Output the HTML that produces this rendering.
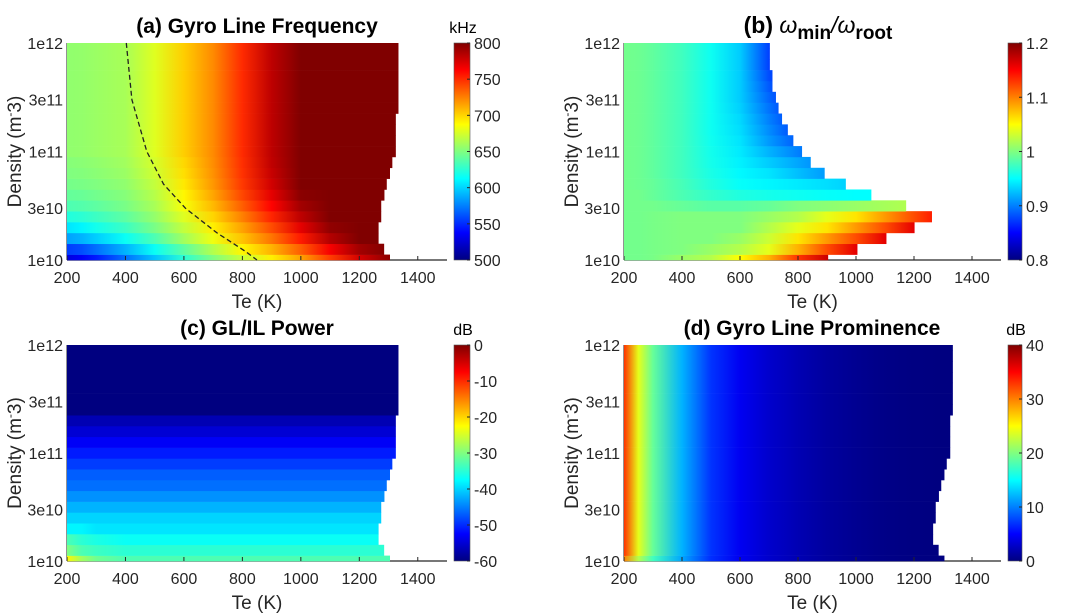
<!DOCTYPE html>
<html><head><meta charset="utf-8"><style>
body{margin:0;background:#fff;}
svg{display:block;font-family:"Liberation Sans",Arial,sans-serif;}
</style></head><body>
<svg id="fig" width="1065" height="616" viewBox="0 0 1065 616"></svg>
<script>
// ---- data ----
const teCols = [200,250,300,400,500,600,700,800,900,1000,1100,1200,1300];
const densityRowsLog = [10,10.1,10.2,10.3,10.4,10.5,10.6,10.7,10.8,10.9,11,11.1,11.2,11.3,11.4,11.5,11.6,11.7,11.8,11.9,12];
const edgeA = [1305,1285,1266,1266,1275,1275,1286,1294,1305,1313,1325,1325,1325,1325,1334,1334,1334,1334,1334,1334,1334];
const edgeB = [904,1005,1105,1202,1262,1173,1053,965,892,844,814,784,765,745,733,724,712,712,703,703,703];
const freqA = [
[528,535,545,570,595,625,650,672,692,715,745,775,795],
[555,560,570,590,615,640,665,690,710,735,765,790,800],
[585,590,598,615,635,660,683,705,728,755,785,800,800],
[605,610,618,630,648,670,692,715,740,770,795,800,800],
[622,625,630,640,656,678,700,725,752,782,800,800,800],
[635,637,640,648,662,685,708,735,762,790,800,800,800],
[642,643,646,652,666,690,714,742,770,797,800,800,800],
[647,648,650,655,670,694,718,746,776,800,800,800,800],
[650,651,653,658,673,697,720,748,779,800,800,800,800],
[652,653,655,660,675,699,721,749,781,800,800,800,800],
[655,656,658,662,678,702,722,750,782,800,800,800,800],
[655,656,658,662,678,702,722,750,782,800,800,800,800],
[655,656,658,662,678,702,722,750,782,800,800,800,800],
[655,656,658,662,678,702,722,750,782,800,800,800,800],
[655,656,658,662,678,702,722,750,782,800,800,800,800],
[655,656,658,662,678,702,722,750,782,800,800,800,800],
[655,656,658,662,678,702,722,750,782,800,800,800,800],
[655,656,658,662,678,702,722,750,782,800,800,800,800],
[655,656,658,662,678,702,722,750,782,800,800,800,800],
[655,656,658,662,678,702,722,750,782,800,800,800,800],
[655,656,658,662,678,702,722,750,782,800,800,800,800]];
const ratioB = [
[0.995,0.995,0.997,1.01,1.02,1.05,1.08,1.13,1.17,1.2,1.2,1.2,1.2],
[0.995,0.995,0.997,1.0,1.01,1.02,1.04,1.08,1.12,1.16,1.2,1.2,1.2],
[0.995,0.995,0.997,1.0,1.0,1.01,1.03,1.06,1.09,1.12,1.16,1.2,1.2],
[0.995,0.995,0.997,1.0,1.0,1.0,1.02,1.04,1.06,1.09,1.12,1.16,1.2],
[0.995,0.995,0.997,1.0,1.0,1.0,1.01,1.02,1.04,1.06,1.09,1.12,1.15],
[0.995,0.995,0.995,0.99,0.985,0.985,0.99,1.0,1.005,1.01,1.015,1.02,1.02],
[0.995,0.995,0.99,0.98,0.97,0.962,0.958,0.955,0.952,0.95,0.95,0.95,0.95],
[0.995,0.993,0.99,0.978,0.963,0.952,0.947,0.942,0.937,0.93,0.93,0.93,0.93],
[0.995,0.993,0.988,0.975,0.96,0.948,0.94,0.925,0.91,0.9,0.9,0.9,0.9],
[0.995,0.993,0.988,0.975,0.958,0.945,0.93,0.915,0.9,0.89,0.89,0.89,0.89],
[0.995,0.993,0.988,0.975,0.957,0.942,0.92,0.9,0.88,0.87,0.87,0.87,0.87],
[0.995,0.993,0.988,0.975,0.956,0.94,0.91,0.885,0.87,0.87,0.87,0.87,0.87],
[0.995,0.993,0.988,0.975,0.955,0.937,0.905,0.875,0.87,0.87,0.87,0.87,0.87],
[0.995,0.993,0.988,0.975,0.955,0.935,0.9,0.87,0.87,0.87,0.87,0.87,0.87],
[0.995,0.993,0.988,0.975,0.955,0.932,0.895,0.865,0.86,0.86,0.86,0.86,0.86],
[0.995,0.993,0.988,0.975,0.955,0.93,0.89,0.86,0.86,0.86,0.86,0.86,0.86],
[0.995,0.993,0.988,0.975,0.955,0.93,0.885,0.86,0.86,0.86,0.86,0.86,0.86],
[0.995,0.993,0.988,0.975,0.955,0.93,0.88,0.86,0.86,0.86,0.86,0.86,0.86],
[0.995,0.993,0.988,0.975,0.955,0.93,0.875,0.86,0.86,0.86,0.86,0.86,0.86],
[0.995,0.993,0.988,0.975,0.955,0.93,0.875,0.86,0.86,0.86,0.86,0.86,0.86],
[0.995,0.993,0.988,0.975,0.955,0.93,0.875,0.86,0.86,0.86,0.86,0.86,0.86]];
const powerC = [
[-22,-28,-31,-33,-33,-33,-33,-33,-33,-33,-33,-33,-33],
[-30,-33,-34,-35,-35,-35,-35,-35,-35,-35,-35,-35,-35],
[-33,-35,-36,-37,-37,-37,-37,-37,-37,-37,-37,-37,-37],
[-38,-38,-39,-39,-39,-39,-39,-39,-39,-39,-39,-39,-39],
[-40,-40,-40,-40,-40,-40,-40,-40,-40,-40,-40,-40,-40],
[-42,-42,-42,-42,-42,-42,-42,-42,-42,-42,-42,-42,-42],
[-44,-44,-44,-44,-44,-44,-44,-44,-44,-44,-44,-44,-44],
[-46,-46,-46,-46,-46,-46,-46,-46,-46,-46,-46,-46,-46],
[-47,-47,-47,-47,-47,-47,-47,-47,-47,-47,-47,-47,-47],
[-49,-49,-49,-49,-49,-49,-49,-49,-49,-49,-49,-49,-49],
[-51,-51,-51,-51,-51,-51,-51,-51,-51,-51,-51,-51,-51],
[-53,-53,-53,-53,-53,-53,-53,-53,-53,-53,-53,-53,-53],
[-55,-55,-55,-55,-55,-55,-55,-55,-55,-55,-55,-55,-55],
[-57,-57,-57,-57,-57,-57,-57,-57,-57,-57,-57,-57,-57],
[-60,-60,-60,-60,-60,-60,-60,-60,-60,-60,-60,-60,-60],
[-60,-60,-60,-60,-60,-60,-60,-60,-60,-60,-60,-60,-60],
[-60,-60,-60,-60,-60,-60,-60,-60,-60,-60,-60,-60,-60],
[-60,-60,-60,-60,-60,-60,-60,-60,-60,-60,-60,-60,-60],
[-60,-60,-60,-60,-60,-60,-60,-60,-60,-60,-60,-60,-60],
[-60,-60,-60,-60,-60,-60,-60,-60,-60,-60,-60,-60,-60],
[-60,-60,-60,-60,-60,-60,-60,-60,-60,-60,-60,-60,-60]];
const promD = [
[30,22,17.5,11.5,6.8,4.4,3,2,1.2,0.7,0.3,0.1,0],
[33,24,19,12,7,4.5,3,2,1.2,0.7,0.3,0.1,0],
[33,24,19,12,7,4.5,3,2,1.2,0.7,0.3,0.1,0],
[33,24,19,12,7,4.5,3,2,1.2,0.7,0.3,0.1,0],
[33,24,19,12,7,4.5,3,2,1.2,0.7,0.3,0.1,0],
[33,24,19,12,7,4.5,3,2,1.2,0.7,0.3,0.1,0],
[33,24,19,12,7,4.5,3,2,1.2,0.7,0.3,0.1,0],
[33,24,19,12,7,4.5,3,2,1.2,0.7,0.3,0.1,0],
[33,24,19,12,7,4.5,3,2,1.2,0.7,0.3,0.1,0],
[33,24,19,12,7,4.5,3,2,1.2,0.7,0.3,0.1,0],
[33,24,19,12,7,4.5,3,2,1.2,0.7,0.3,0.1,0],
[33,24,19,12,7,4.5,3,2,1.2,0.7,0.3,0.1,0],
[33,24,19,12,7,4.5,3,2,1.2,0.7,0.3,0.1,0],
[33,24,19,12,7,4.5,3,2,1.2,0.7,0.3,0.1,0],
[33,24,19,12,7,4.5,3,2,1.2,0.7,0.3,0.1,0],
[33,24,19,12,7,4.5,3,2,1.2,0.7,0.3,0.1,0],
[33,24,19,12,7,4.5,3,2,1.2,0.7,0.3,0.1,0],
[33,24,19,12,7,4.5,3,2,1.2,0.7,0.3,0.1,0],
[33,24,19,12,7,4.5,3,2,1.2,0.7,0.3,0.1,0],
[33,24,19,12,7,4.5,3,2,1.2,0.7,0.3,0.1,0],
[33,24,19,12,7,4.5,3,2,1.2,0.7,0.3,0.1,0]];
const dashTe = [403,422,473,530,605,713,810,850];
const dashLogN = [12,11.477,11,10.7,10.477,10.25,10.08,10];
const xTicks = [200,400,600,800,1000,1200,1400];
const yTickLogs = [10,10.477,11,11.477,12];
const yTickLabels = ["1e10","3e10","1e11","3e11","1e12"];
const cbTicksA = [500,550,600,650,700,750,800];
const cbTicksB = [0.8,0.9,1,1.1,1.2];
const cbLabelsB = ["0.8","0.9","1","1.1","1.2"];
const cbTicksC = [-60,-50,-40,-30,-20,-10,0];
const cbTicksD = [0,10,20,30,40];

// ---- drawing ----
const NS = "http://www.w3.org/2000/svg";
const svg = document.getElementById('fig');
const defs = document.createElementNS(NS,'defs');
svg.appendChild(defs);
let gid = 0;
function mk(tag, attrs, parent){
  const e = document.createElementNS(NS, tag);
  for (const k in attrs) e.setAttribute(k, attrs[k]);
  (parent||svg).appendChild(e);
  return e;
}
function jet(t){
  t = Math.max(0, Math.min(1, t));
  const c = v => Math.round(255*Math.max(0, Math.min(1, v)));
  return `rgb(${c(1.5-Math.abs(4*t-3))},${c(1.5-Math.abs(4*t-2))},${c(1.5-Math.abs(4*t-1))})`;
}
function panel(o){
  const xs = te => o.x0 + (te-200)/(1500-200)*(o.x1-o.x0);
  const ys = lg => o.y1 - (lg-10)/2*(o.y1-o.y0);
  const g = mk('g', {});
  
  
  const ax = mk('line', {x1:o.x0, y1:o.y1, x2:o.x1, y2:o.y1, stroke:'#262626', 'stroke-width':1.3}, g);
  
  
  const ay = mk('line', {x1:o.x0, y1:o.y0, x2:o.x0, y2:o.y1, stroke:'#262626', 'stroke-width':1}, g);
  
  
  const hm = mk('g', {}, g);
  
  
  densityRowsLog.forEach((lg, i) => {
    const id = 'g' + (gid++);
    const lgd = mk('linearGradient', {id, gradientUnits:'userSpaceOnUse', x1:xs(teCols[0]), y1:0, x2:xs(teCols[teCols.length-1]), y2:0}, defs);
    teCols.forEach((te, j) => {
      mk('stop', {offset:(te-teCols[0])/(teCols[teCols.length-1]-teCols[0]), 'stop-color':jet((o.vals[i][j]-o.vmin)/(o.vmax-o.vmin))}, lgd);
    });
    const top = ys(Math.min(12, lg+0.05)), bot = ys(Math.max(10, lg-0.05));
    const r = mk('rect', {x:xs(200), y:top, width:xs(o.edges[i])-xs(200), height:bot-top+0.3, fill:`url(#${id})`}, hm);
    
    
  });
  xTicks.forEach(t => {
    mk('line', {x1:xs(t), y1:o.y1, x2:xs(t), y2:o.y1-4, stroke:'#262626', 'stroke-width':1}, g);
    const tx = mk('text', {x:xs(t), y:o.y1+23, 'text-anchor':'middle', 'font-size':16, fill:'#262626'}, g);
    tx.textContent = t;
    
    
  });
  yTickLogs.forEach((lg, k) => {
    const tx = mk('text', {x:o.x0-4, y:ys(lg)+6, 'text-anchor':'end', 'font-size':16, fill:'#262626'}, g);
    tx.textContent = yTickLabels[k];
    
    
  });
  const xl = mk('text', {x:(o.x0+o.x1)/2, y:o.y1+48, 'text-anchor':'middle', 'font-size':19, fill:'#262626'}, g);
  xl.textContent = 'Te (K)';
  
  
  const cy = (o.y0+o.y1)/2;
  const yl = mk('text', {x:o.ylx, y:cy, 'text-anchor':'middle', 'font-size':19, fill:'#262626', transform:`rotate(-90 ${o.ylx} ${cy})`}, g);
  yl.innerHTML = 'Density (m<tspan font-size="12" dy="-7">-</tspan><tspan dy="7">3)</tspan>';
  
  
  const tt = mk('text', {x:o.tx, y:o.y0-10, 'text-anchor':'middle', 'font-size':o.tfs||21, 'font-weight':'bold', fill:'#000'}, g);
  tt.innerHTML = o.title;
  
  
  const cid = 'cb' + (gid++);
  const cg = mk('linearGradient', {id:cid, x1:0, y1:1, x2:0, y2:0}, defs);
  for (let k = 0; k <= 8; k++) mk('stop', {offset:k/8, 'stop-color':jet(k/8)}, cg);
  const cb = mk('rect', {x:o.cx, y:o.y0, width:o.cw, height:o.y1-o.y0, fill:`url(#${cid})`, stroke:'#555', 'stroke-width':0.6}, g);
  
  
  const cys = v => o.y1 - (v-o.vmin)/(o.vmax-o.vmin)*(o.y1-o.y0);
  o.cbTicks.forEach((v, k) => {
    mk('line', {x1:o.cx+o.cw-3, y1:cys(v), x2:o.cx+o.cw, y2:cys(v), stroke:'#262626', 'stroke-width':1}, g);
    const tx = mk('text', {x:o.cx+o.cw+4, y:cys(v)+6, 'font-size':16, fill:'#262626'}, g);
    tx.textContent = o.cbLabels ? o.cbLabels[k] : v;
    
    
  });
  if (o.unit) {
    const u = mk('text', {x:o.cx+o.cw/2+1, y:o.y0-10, 'text-anchor':'middle', 'font-size':16, fill:'#000'}, g);
    u.textContent = o.unit;
    
    
  }
  return {xs, ys, g};
}
const pa = panel({name:'panel-a', x0:67, x1:447, y0:43, y1:260, ylx:21, tx:257, title:'(a) Gyro Line Frequency', vals:freqA, edges:edgeA, vmin:500, vmax:800, cx:454, cw:16, cbTicks:cbTicksA, unit:'kHz'});
panel({name:'panel-b', x0:624, x1:1001, y0:43, y1:260, ylx:578, tx:818, tfs:23, title:'(b) <tspan font-style="italic" font-weight="normal">ω</tspan><tspan font-size="19" dy="6">min</tspan><tspan dy="-6" font-weight="normal" font-style="italic">/ω</tspan><tspan font-size="19" dy="6">root</tspan>', vals:ratioB, edges:edgeB, vmin:0.8, vmax:1.2, cx:1008, cw:14, cbTicks:cbTicksB, cbLabels:cbLabelsB, unit:''});
panel({name:'panel-c', x0:67, x1:447, y0:345, y1:561, ylx:21, tx:257, title:'(c) GL/IL Power', vals:powerC, edges:edgeA, vmin:-60, vmax:0, cx:454, cw:16, cbTicks:cbTicksC, unit:'dB'});
panel({name:'panel-d', x0:624, x1:1001, y0:345, y1:561, ylx:578, tx:812, title:'(d) Gyro Line Prominence', vals:promD, edges:edgeA, vmin:0, vmax:40, cx:1008, cw:14, cbTicks:cbTicksD, unit:'dB'});
const dpts = dashTe.map((t, i) => pa.xs(t).toFixed(1) + ',' + pa.ys(dashLogN[i]).toFixed(1)).join(' ');
const dl = mk('polyline', {points:dpts, fill:'none', stroke:'#222', 'stroke-width':1.3, 'stroke-dasharray':'5,3'}, pa.g);


</script>
</body></html>
